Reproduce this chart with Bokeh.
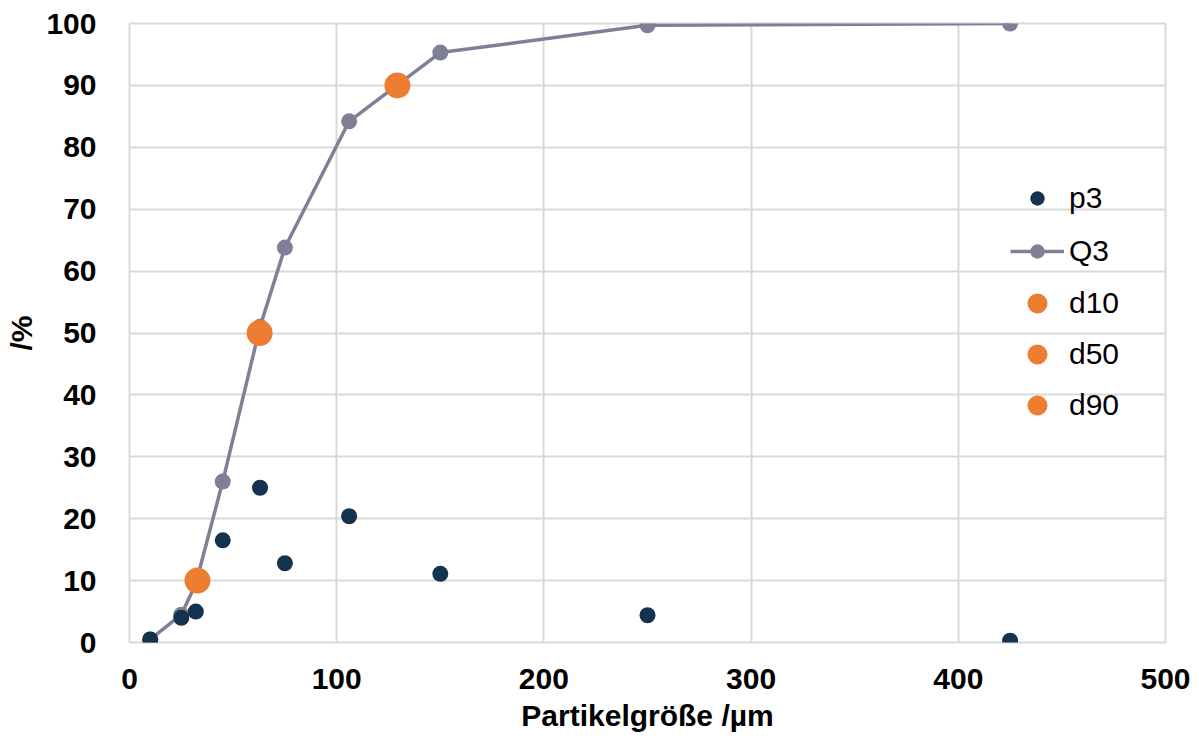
from bokeh.plotting import figure
from bokeh.models import Range1d, Legend, LegendItem, FixedTicker
from bokeh.embed import file_html
from bokeh.resources import INLINE

# data
size_um = [10, 25, 32, 45, 63, 75, 106, 150, 250, 425]
p3 = [0.5, 4.0, 5.0, 16.5, 25.0, 12.8, 20.4, 11.1, 4.4, 0.3]
q3 = [0.5, 4.5, 9.5, 26.0, 51.0, 63.8, 84.2, 95.3, 99.7, 100.0]
d10 = [32.8, 10.0]
d50 = [62.8, 50.0]
d90 = [129.3, 90.0]
x_ticks = [0, 100, 200, 300, 400, 500]
y_ticks = [0, 10, 20, 30, 40, 50, 60, 70, 80, 90, 100]

NAVY = "#15324F"
GRAY = "#7F7F96"
ORANGE = "#ED7D31"
GRID = "#D9D9D9"
FONT = "Liberation Sans"

p = figure(width=1191, height=734, output_backend="svg", toolbar_location=None,
           x_range=Range1d(0, 500), y_range=Range1d(0, 100),
           min_border_left=129, min_border_top=23, min_border_right=26, min_border_bottom=92)

p.outline_line_color = GRID
p.outline_line_width = 2
for ax in (p.xaxis[0], p.yaxis[0]):
    ax.axis_line_color = None
    ax.major_tick_line_color = None
    ax.minor_tick_line_color = None
    ax.major_label_text_font = FONT
    ax.major_label_text_font_style = "bold"
    ax.major_label_text_font_size = "30px"
    ax.major_label_text_color = "#000000"
    ax.axis_label_text_font = FONT
    ax.axis_label_text_font_style = "bold"
    ax.axis_label_text_font_size = "30px"
    ax.axis_label_text_color = "#000000"

p.xaxis[0].ticker = FixedTicker(ticks=x_ticks)
p.yaxis[0].ticker = FixedTicker(ticks=y_ticks)
p.xaxis[0].axis_label = "Partikelgröße /µm"
p.yaxis[0].axis_label = "/%"
p.xaxis[0].major_label_standoff = 20
p.yaxis[0].major_label_standoff = 27
p.xaxis[0].axis_label_standoff = 7
p.yaxis[0].axis_label_standoff = 5

for g in (p.xgrid[0], p.ygrid[0]):
    g.grid_line_color = GRID
    g.grid_line_width = 2
p.xgrid[0].ticker = FixedTicker(ticks=x_ticks)
p.ygrid[0].ticker = FixedTicker(ticks=y_ticks)

q3_line = p.line(size_um, q3, line_color=GRAY, line_width=3.5)
q3_pts = p.scatter(size_um, q3, size=16, fill_color=GRAY, line_color=None)
p3_pts = p.scatter(size_um, p3, size=16, fill_color=NAVY, line_color=None)
r10 = p.scatter([d10[0]], [d10[1]], size=26, fill_color=ORANGE, line_color=None)
r50 = p.scatter([d50[0]], [d50[1]], size=26, fill_color=ORANGE, line_color=None)
r90 = p.scatter([d90[0]], [d90[1]], size=26, fill_color=ORANGE, line_color=None)


def style_legend(lg, gh, sp):
    lg.background_fill_alpha = 0
    lg.border_line_color = None
    lg.padding = 0
    lg.margin = 0
    lg.glyph_width = 54
    lg.glyph_height = gh
    lg.label_height = gh
    lg.spacing = sp
    lg.label_standoff = 5
    lg.label_text_font = FONT
    lg.label_text_font_size = "30px"
    lg.label_text_color = "#000000"


legend1 = Legend(items=[
    LegendItem(label="p3", renderers=[p3_pts]),
    LegendItem(label="Q3", renderers=[q3_line, q3_pts]),
], location=(881, 373))
style_legend(legend1, 36, 17)

legend2 = Legend(items=[
    LegendItem(label="d10", renderers=[r10]),
    LegendItem(label="d50", renderers=[r50]),
    LegendItem(label="d90", renderers=[r90]),
], location=(881, 212))
style_legend(legend2, 50, 1)

p.add_layout(legend1, "center")
p.add_layout(legend2, "center")

open("out.html", "w").write(file_html(p, INLINE))
